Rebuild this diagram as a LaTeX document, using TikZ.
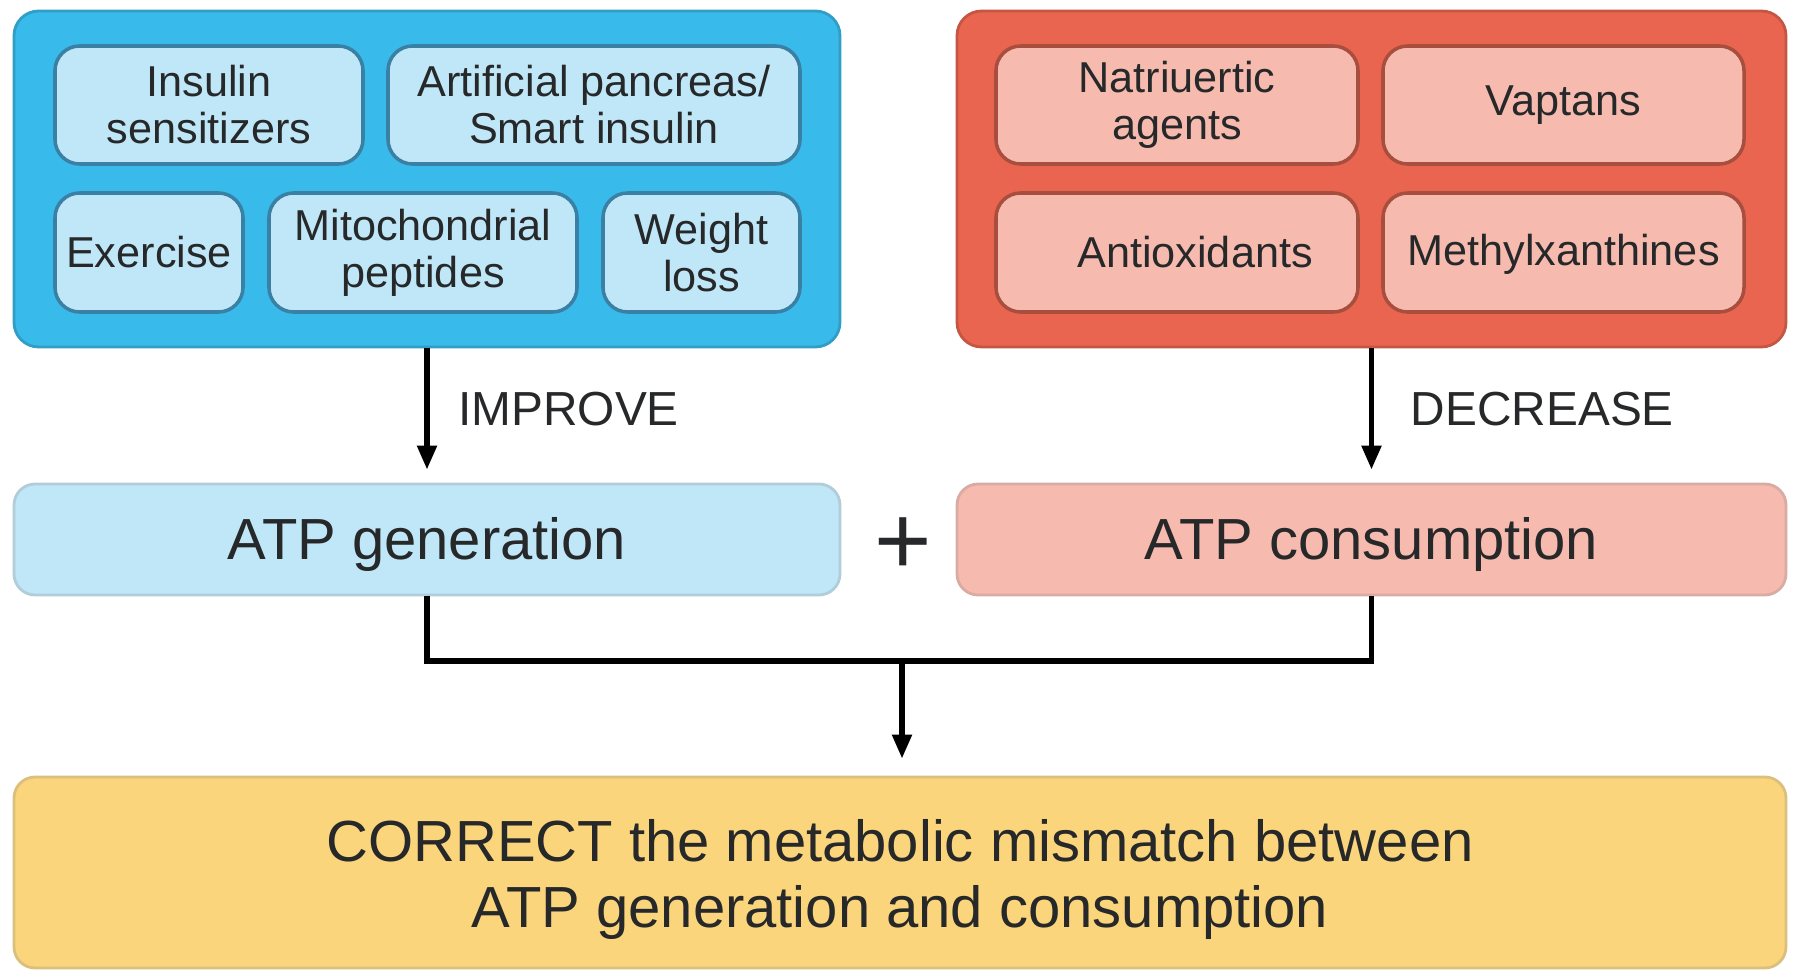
\documentclass[tikz,border=0pt]{standalone}
\usepackage{fontspec}
\setmainfont{Liberation Sans}
\usetikzlibrary{arrows.meta}

\definecolor{boxblue}{RGB}{56,186,234}
\definecolor{cellblue}{RGB}{192,231,247}
\definecolor{edgeblue}{RGB}{58,128,165}
\definecolor{boxred}{RGB}{233,101,80}
\definecolor{cellred}{RGB}{246,187,174}
\definecolor{edgered}{RGB}{168,78,62}
\definecolor{boxyellow}{RGB}{250,213,124}
\definecolor{inkdark}{RGB}{38,40,42}

\newcommand{\lowstrut}{\rule{0pt}{15pt}}

\tikzset{
  group/.style={draw=#1!85!black, fill=#1, line width=0.8pt, rounded corners=7pt},
  cell/.style={draw=edge#1, fill=cell#1, line width=1pt, rounded corners=7pt,
    inner sep=0pt, align=center, text=inkdark,
    font=\fontsize{12.3}{13.4}\selectfont},
  bigbox/.style={draw=#1!75!gray, fill=#1, line width=0.8pt, rounded corners=6pt,
    inner sep=0pt, align=center, text=inkdark,
    font=\fontsize{16.5}{19}\selectfont},
  flow/.style={line width=1.5pt, -{Triangle[length=0.24cm,width=0.19cm]}},
  tag/.style={anchor=west, text=inkdark, font=\fontsize{13.6}{15}\selectfont}
}

\begin{document}
\begin{tikzpicture}
    \useasboundingbox (0,0) rectangle (18,-9.79);

    %% the two groups of treatments
    \node[group=boxblue, minimum width=8.26cm, minimum height=3.36cm] (improvers) at (4.27,-1.79) {};
    \node[group=boxred, minimum width=8.29cm, minimum height=3.36cm] (reducers) at (13.715,-1.79) {};

    \node[cell=blue, minimum width=3.08cm, minimum height=1.18cm] (insulin) at (2.09,-1.05) {Insulin\\sensitizers};
    \node[cell=blue, minimum width=4.12cm, minimum height=1.18cm] (pancreas) at (5.94,-1.05) {Artificial pancreas/\\Smart insulin};
    \node[cell=blue, minimum width=1.88cm, minimum height=1.19cm] (exercise) at (1.49,-2.525) {Exercise};
    \node[cell=blue, minimum width=3.08cm, minimum height=1.19cm] (mito) at (4.23,-2.525) {Mitochondrial\\peptides};
    \node[cell=blue, minimum width=1.97cm, minimum height=1.19cm] (weight) at (7.015,-2.525) {Weight\\loss};

    \node[cell=red, minimum width=3.62cm, minimum height=1.18cm] (natri) at (11.77,-1.05) {Natriuertic\\agents};
    \node[cell=red, minimum width=3.61cm, minimum height=1.18cm] (vaptans) at (15.635,-1.05) {Vaptans};
    \node[cell=red, minimum width=3.62cm, minimum height=1.19cm] (antiox) at (11.77,-2.525) {\hspace*{0.36cm}Antioxidants};
    \node[cell=red, minimum width=3.61cm, minimum height=1.19cm] (methyl) at (15.635,-2.525) {\rule{0pt}{10pt}Methylxanthines};

    %% ATP balance
    \node[bigbox=cellblue, minimum width=8.26cm, minimum height=1.11cm] (atpgen) at (4.27,-5.395) {\lowstrut ATP generation};
    \node[bigbox=cellred, minimum width=8.29cm, minimum height=1.11cm] (atpcons) at (13.715,-5.395) {\lowstrut ATP consumption};
    \node[text=inkdark, font=\fontsize{28}{30}\selectfont] (plus) at (9.03,-5.46) {+};

    \node[bigbox=boxyellow, minimum width=17.72cm, minimum height=1.91cm] (result) at (9.0,-8.725)
        {\rule{0pt}{16pt}CORRECT the metabolic mismatch between\\ATP generation and consumption};

    \draw[flow, shorten >=0.13cm] (improvers.south) -- (atpgen.north)
        node[tag, pos=0.45, xshift=0.17cm] (improve) {IMPROVE};
    \draw[flow, shorten >=0.13cm] (reducers.south -| atpcons.north) -- (atpcons.north)
        node[tag, pos=0.45, xshift=0.25cm] (decrease) {DECREASE};

    \coordinate (join) at (9.02,-6.61);
    \draw[line width=1.6pt] (atpgen.south) |- (join) -| (atpcons.south);
    \draw[flow, shorten >=0.17cm] (join) -- (join |- result.north);
\end{tikzpicture}
\end{document}
